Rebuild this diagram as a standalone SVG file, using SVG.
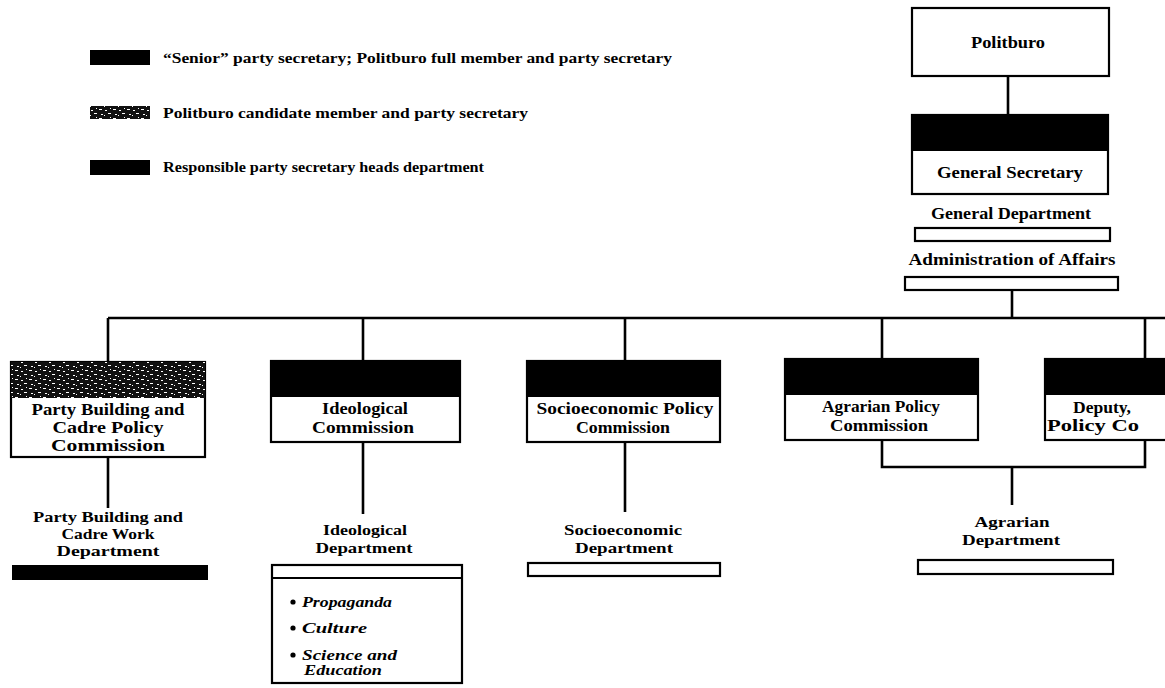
<svg xmlns="http://www.w3.org/2000/svg" width="1165" height="688" viewBox="0 0 1165 688">
<style>
.box{fill:#fff;stroke:#000;stroke-width:2.2}
.band{fill:#000}
.bar{fill:#fff;stroke:#000;stroke-width:2.2}
.line{stroke:#000;stroke-width:2.6;fill:none}
text{font-family:"Liberation Serif","DejaVu Serif",serif;font-weight:bold;fill:#000}
.lab{font-size:17px;text-anchor:middle}
.dep{font-size:15px;text-anchor:middle}
.leg{font-size:15px}
.it{font-size:15.5px;font-style:italic}
.it2{font-size:14px;font-style:italic}
</style>
<defs>
<pattern id="stip" width="14" height="9" patternUnits="userSpaceOnUse">
<rect width="14" height="9" fill="#111"/>
<rect x="1" y="1" width="3" height="1" fill="#fff"/>
<rect x="7" y="2" width="2" height="1" fill="#fff"/>
<rect x="10" y="5" width="3" height="1" fill="#fff"/>
<rect x="3" y="6" width="2" height="1" fill="#fff"/>
<rect x="6" y="7" width="1" height="1" fill="#fff"/>
<rect x="12" y="0" width="1" height="1" fill="#fff"/>
</pattern>
</defs>

<g id="legend">
<rect x="90" y="50" width="60" height="15" fill="#000"/>
<text class="leg" x="163" y="63" textLength="509" lengthAdjust="spacingAndGlyphs">“Senior” party secretary; Politburo full member and party secretary</text>
<rect x="90" y="106" width="60" height="13" fill="url(#stip)"/>
<text class="leg" x="163" y="118" textLength="365" lengthAdjust="spacingAndGlyphs">Politburo candidate member and party secretary</text>
<rect x="90" y="160" width="60" height="15" fill="#000"/>
<text class="leg" x="163" y="172" textLength="321" lengthAdjust="spacingAndGlyphs">Responsible party secretary heads department</text>
</g>

<g id="connectors">
<path class="line" d="M1008 76V115"/>
<path class="line" d="M1012 290V318"/>
<path class="line" d="M108 318H1165"/>
<path class="line" d="M108 318V362M363 318V361M625 318V361M882 318V359M1145 318V359"/>
<path class="line" d="M108 457V508M363 442V514M625 442V512"/>
<path class="line" d="M882 440V467H1145V440M1012 467V505"/>
</g>

<g id="politburo">
<rect class="box" x="912" y="8" width="197" height="68"/>
<text class="lab" x="1008" y="48" textLength="74" lengthAdjust="spacingAndGlyphs">Politburo</text>
</g>

<g id="general-secretary">
<rect class="box" x="912" y="115" width="196" height="79"/>
<rect class="band" x="912" y="115" width="196" height="36"/>
<text class="lab" x="1010" y="178" textLength="146" lengthAdjust="spacingAndGlyphs">General Secretary</text>
</g>

<g id="general-department">
<text class="lab" x="1011" y="219" textLength="160" lengthAdjust="spacingAndGlyphs">General Department</text>
<rect class="bar" x="915" y="228" width="195" height="13"/>
</g>

<g id="administration">
<text class="lab" x="1012" y="265" textLength="207" lengthAdjust="spacingAndGlyphs">Administration of Affairs</text>
<rect class="bar" x="905" y="277" width="213" height="13"/>
</g>

<g id="party-building-commission">
<rect class="box" x="11" y="362" width="194" height="95"/>
<rect x="11" y="362" width="194" height="36" fill="url(#stip)"/>
<text class="lab" x="108" y="415" textLength="153" lengthAdjust="spacingAndGlyphs">Party Building and</text>
<text class="lab" x="108" y="433" textLength="111" lengthAdjust="spacingAndGlyphs">Cadre Policy</text>
<text class="lab" x="108" y="451" textLength="114" lengthAdjust="spacingAndGlyphs">Commission</text>
</g>

<g id="ideological-commission">
<rect class="box" x="271" y="361" width="189" height="81"/>
<rect class="band" x="271" y="361" width="189" height="36"/>
<text class="lab" x="365" y="414" textLength="86" lengthAdjust="spacingAndGlyphs">Ideological</text>
<text class="lab" x="363" y="433" textLength="102" lengthAdjust="spacingAndGlyphs">Commission</text>
</g>

<g id="socioeconomic-commission">
<rect class="box" x="527" y="361" width="193" height="81"/>
<rect class="band" x="527" y="361" width="193" height="36"/>
<text class="lab" x="625" y="414" textLength="177" lengthAdjust="spacingAndGlyphs">Socioeconomic Policy</text>
<text class="lab" x="623" y="433" textLength="94" lengthAdjust="spacingAndGlyphs">Commission</text>
</g>

<g id="agrarian-commission">
<rect class="box" x="785" y="359" width="193" height="81"/>
<rect class="band" x="785" y="359" width="193" height="36"/>
<text class="lab" x="881" y="412" textLength="118" lengthAdjust="spacingAndGlyphs">Agrarian Policy</text>
<text class="lab" x="879" y="431" textLength="98" lengthAdjust="spacingAndGlyphs">Commission</text>
</g>

<g id="deputy-commission">
<rect class="box" x="1045" y="359" width="130" height="81"/>
<rect class="band" x="1045" y="359" width="130" height="36"/>
<text x="1073" y="413" style="font-size:17px" textLength="58" lengthAdjust="spacingAndGlyphs">Deputy,</text>
<text x="1047" y="431" style="font-size:17px" textLength="92" lengthAdjust="spacingAndGlyphs">Policy Co</text>
</g>

<g id="party-building-department">
<text class="dep" x="108" y="522" textLength="150" lengthAdjust="spacingAndGlyphs">Party Building and</text>
<text class="dep" x="108" y="539" textLength="93" lengthAdjust="spacingAndGlyphs">Cadre Work</text>
<text class="dep" x="108" y="556" textLength="103" lengthAdjust="spacingAndGlyphs">Department</text>
<rect x="12" y="565" width="196" height="15" fill="#000"/>
</g>

<g id="ideological-department">
<text class="dep" x="365" y="535" textLength="84" lengthAdjust="spacingAndGlyphs">Ideological</text>
<text class="dep" x="364" y="553" textLength="97" lengthAdjust="spacingAndGlyphs">Department</text>
<rect class="box" x="272" y="565" width="190" height="118"/>
<path class="line" d="M272 578H462" style="stroke-width:2"/>
<circle cx="293" cy="602" r="2.6"/>
<text class="it" x="302" y="607" textLength="90" lengthAdjust="spacingAndGlyphs">Propaganda</text>
<circle cx="293" cy="628" r="2.6"/>
<text class="it" x="302" y="633" textLength="65" lengthAdjust="spacingAndGlyphs">Culture</text>
<circle cx="293" cy="655" r="2.6"/>
<text class="it2" x="302" y="660" textLength="95" lengthAdjust="spacingAndGlyphs">Science and</text>
<text class="it2" x="304" y="675" textLength="78" lengthAdjust="spacingAndGlyphs">Education</text>
</g>

<g id="socioeconomic-department">
<text class="dep" x="623" y="535" textLength="118" lengthAdjust="spacingAndGlyphs">Socioeconomic</text>
<text class="dep" x="624" y="553" textLength="98" lengthAdjust="spacingAndGlyphs">Department</text>
<rect class="bar" x="528" y="563" width="192" height="13"/>
</g>

<g id="agrarian-department">
<text class="dep" x="1012" y="527" textLength="75" lengthAdjust="spacingAndGlyphs">Agrarian</text>
<text class="dep" x="1011" y="545" textLength="98" lengthAdjust="spacingAndGlyphs">Department</text>
<rect class="bar" x="918" y="560" width="195" height="14"/>
</g>
</svg>
